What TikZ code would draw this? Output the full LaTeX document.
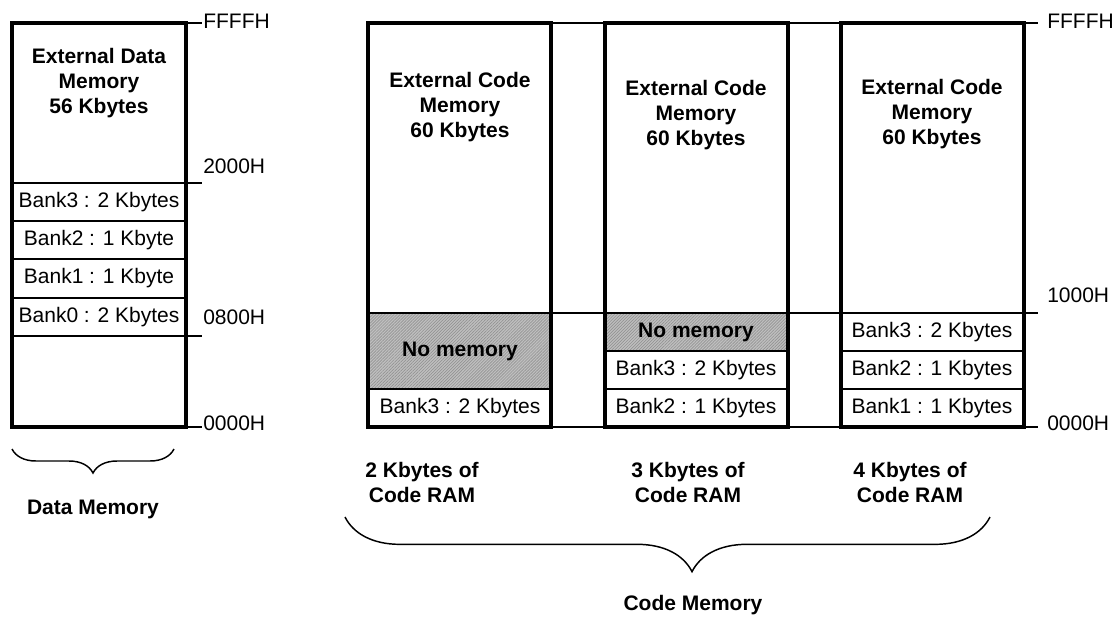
\documentclass[tikz,border=0pt]{standalone}
\usepackage{fontspec}
\setmainfont{Liberation Sans}
\usetikzlibrary{decorations.pathreplacing,patterns.meta,positioning}
\tikzstyle{outline}=[line width=2.5pt]
\tikzstyle{divider}=[line width=1.5pt]
\tikzstyle{tick}   =[line width=1pt]
\tikzstyle{cell}   =[inner sep=0pt, font=\fontsize{15.75}{18.75}\selectfont]
\tikzstyle{title}  =[cell, align=center,
                     font=\bfseries\fontsize{15.75}{18.75}\selectfont]
\tikzstyle{addr}   =[cell, anchor=west]
\tikzstyle{nomem}  =[fill=gray!50,
                     postaction={pattern={Lines[angle=45, distance=1.6pt, line width=0.5pt]},
                                 pattern color=gray!85}]
\tikzstyle{curly}  =[decorate, line width=1.1pt]
\begin{document}
\begin{tikzpicture}[x=0.75pt, y=-0.75pt]
    \useasboundingbox (0,0) rectangle (1114,618);

    % data memory
    \foreach \y in {183,221,259,298,336} \draw[divider] (12,\y) -- (186,\y);
    \draw[outline] (12,23) rectangle (186,427);
    \node[title] (dtitle) at (99,83) {External Data\\Memory\\56 Kbytes};
    \foreach \t/\y [count=\i] in {Bank3 : 2 Kbytes/202, Bank2 : 1 Kbyte/240,
                                  Bank1 : 1 Kbyte/278, Bank0 : 2 Kbytes/317}
        \node[cell] (dbank\i) at (99,\y) {\t};

    \foreach \y in {23,183,336,427} \draw[tick] (186,\y) -- (202,\y);
    \node[addr] (dtop)  at (203,21)  {FFFFH};
    \node[addr] (d2000) at (203,166) {2000H};
    \node[addr] (d0800) at (203,317) {0800H};
    \node[addr] (dbot)  at (203,423) {0000H};

    % code memory
    \fill[nomem] (368,313) rectangle (552,389);
    \fill[nomem] (605,313) rectangle (788,351);
    \foreach \y in {23,313,427} \draw[tick] (368,\y) -- (1038,\y);
    \foreach \x/\y in {368/389, 605/351, 605/389, 841/351, 841/389}
        \draw[divider] (\x,\y) -- ++(183,0);
    \foreach \x/\m/\ty [count=\c] in {368/460/107, 605/696/115, 841/932/114}{
        \draw[divider] (\x,313) -- ++(183,0);
        \draw[outline] (\x,23) rectangle ++(183,404);
        \node[title] (ctitle\c) at (\m,\ty) {External Code\\Memory\\60 Kbytes};
    }
    \node[title] (cnone1)  at (460,351) {No memory};
    \node[cell]  (cbank13) at (460,408) {Bank3 : 2 Kbytes};
    \node[title] (cnone2)  at (696,332) {No memory};
    \node[cell]  (cbank23) at (696,370) {Bank3 : 2 Kbytes};
    \node[cell]  (cbank22) at (696,408) {Bank2 : 1 Kbytes};
    \node[cell]  (cbank33) at (932,332) {Bank3 : 2 Kbytes};
    \node[cell]  (cbank32) at (932,370) {Bank2 : 1 Kbytes};
    \node[cell]  (cbank31) at (932,408) {Bank1 : 1 Kbytes};

    \node[addr] (ctop)  at (1047,21)  {FFFFH};
    \node[addr] (c1000) at (1047,295) {1000H};
    \node[addr] (cbot)  at (1047,423) {0000H};

    % sizes and braces
    \node[title] (ram2) at (422,482) {2 Kbytes of\\Code RAM};
    \node[title] (ram3) at (688,482) {3 Kbytes of\\Code RAM};
    \node[title] (ram4) at (910,482) {4 Kbytes of\\Code RAM};

    \coordinate (dl) at (12,449);  \coordinate (dr) at (174,449);
    \coordinate (cl) at (345,517); \coordinate (cr) at (990,517);
    \draw[curly, decoration={brace, mirror, amplitude=18pt}] (dl) -- (dr);
    \draw[curly, decoration={brace, mirror, amplitude=41pt, aspect=0.538}] (cl) -- (cr);
    \node[title] (datamem) at (93,509)  {Data Memory};
    \node[title] (codemem) at (693,605) {Code Memory};
\end{tikzpicture}
\end{document}
